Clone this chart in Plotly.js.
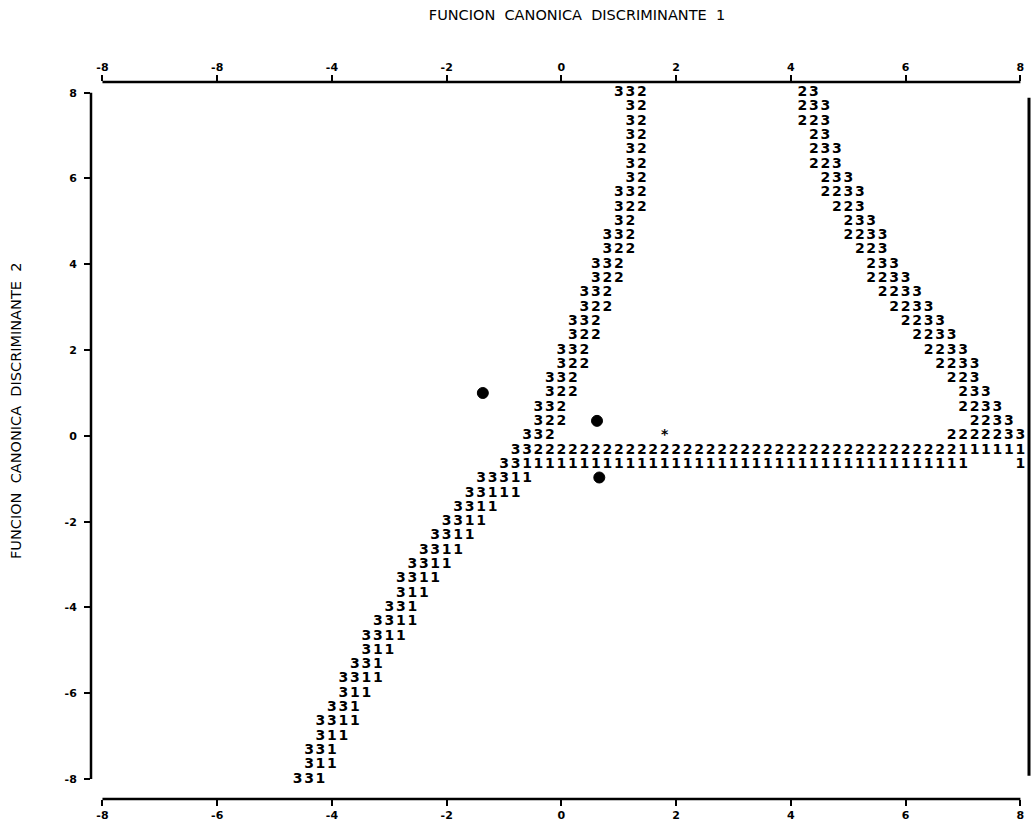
<!DOCTYPE html>
<html><head><meta charset="utf-8">
<script src="https://cdn.plot.ly/plotly-3.0.1.min.js"></script>
<style>html,body{margin:0;padding:0;background:#fff;}#chart{width:1032px;height:832px;}</style>
</head><body><div id="chart"></div>
<script>
// Territorial map grid: 81 columns (x from -8 to 8, step 0.2), 49 rows (y from 8 down to -8, step 1/3)
const gridX0 = -8, gridDX = 0.2, gridY0 = 8, gridDY = 1 / 3;

// Each row: list of [column, printed group digits]
const mapRows = [
  [[45, '332'], [61, '23']],
  [[46, '32'], [61, '233']],
  [[46, '32'], [61, '223']],
  [[46, '32'], [62, '23']],
  [[46, '32'], [62, '233']],
  [[46, '32'], [62, '223']],
  [[46, '32'], [63, '233']],
  [[45, '332'], [63, '2233']],
  [[45, '322'], [64, '223']],
  [[45, '32'], [65, '233']],
  [[44, '332'], [65, '2233']],
  [[44, '322'], [66, '223']],
  [[43, '332'], [67, '233']],
  [[43, '322'], [67, '2233']],
  [[42, '332'], [68, '2233']],
  [[42, '322'], [69, '2233']],
  [[41, '332'], [70, '2233']],
  [[41, '322'], [71, '2233']],
  [[40, '332'], [72, '2233']],
  [[40, '322'], [73, '2233']],
  [[39, '332'], [74, '223']],
  [[39, '322'], [75, '233']],
  [[38, '332'], [75, '2233']],
  [[38, '322'], [76, '2233']],
  [[37, '332'], [49, '*'], [74, '2222233']],
  [[36, '33' + '2222222222' + '2222222222' + '2222222222' + '2222222' + '111111']],
  [[35, '33' + '1111111111' + '1111111111' + '1111111111' + '111111111'], [80, '1']],
  [[33, '33311']],
  [[32, '33111']],
  [[31, '3311']],
  [[30, '3311']],
  [[29, '3311']],
  [[28, '3311']],
  [[27, '3311']],
  [[26, '3311']],
  [[26, '311']],
  [[25, '331']],
  [[24, '3311']],
  [[23, '3311']],
  [[23, '311']],
  [[22, '331']],
  [[21, '3311']],
  [[21, '311']],
  [[20, '331']],
  [[19, '3311']],
  [[19, '311']],
  [[18, '331']],
  [[18, '311']],
  [[17, '331']]
];

// Group centroids
const centroidX = [-1.37, 0.62, 0.66];
const centroidY = [1.00, 0.35, -0.97];

const xTickVals = [-8, -6, -4, -2, 0, 2, 4, 6, 8];
const xTickTextBottom = ['-8', '-6', '-4', '-2', '0', '2', '4', '6', '8'];
const xTickTextTop = ['-8', '-8', '-4', '-2', '0', '2', '4', '6', '8'];
const yTickVals = [-8, -6, -4, -2, 0, 2, 4, 6, 8];
const yTickText = ['-8', '-6', '-4', '-2', '0', '2', '4', '6', '8'];

const xTitle = 'FUNCION\u00a0\u00a0CANONICA\u00a0\u00a0DISCRIMINANTE\u00a0\u00a01';
const yTitle = 'FUNCION\u00a0\u00a0CANONICA\u00a0\u00a0DISCRIMINANTE\u00a0\u00a02';

const mx = [], my = [], mt = [];
mapRows.forEach((row, r) => {
  row.forEach(([c0, s]) => {
    for (let i = 0; i < s.length; i++) {
      mx.push(gridX0 + (c0 + i) * gridDX);
      my.push(gridY0 - r * gridDY);
      mt.push(s[i]);
    }
  });
});

const mapTrace = {
  type: 'scatter', mode: 'text', x: mx, y: my, text: mt,
  textposition: 'middle center',
  textfont: {family: 'DejaVu Sans', size: 14, color: '#000', weight: 'bold'},
  hoverinfo: 'skip', showlegend: false
};
const centroidTrace = {
  type: 'scatter', mode: 'markers', x: centroidX, y: centroidY, xaxis: 'x2', yaxis: 'y',
  marker: {symbol: 'circle', size: 11, color: '#000', line: {width: 1, color: '#000'}},
  hoverinfo: 'skip', showlegend: false
};

const tickFont = {family: 'DejaVu Sans', size: 11, color: '#000', weight: 'bold'};
const xr = [-8.2, 8.15];
const yr = [-8.464, 8.249];
const lineStyle = {color: '#000', width: 2.5};

const layout = {
  width: 1032, height: 832,
  margin: {l: 91, r: 3, t: 82, b: 33},
  paper_bgcolor: '#fff', plot_bgcolor: '#fff',
  showlegend: false,
  title: {text: xTitle, x: 577 / 1032, xanchor: 'center', xref: 'container',
          y: 1 - 15 / 832, yanchor: 'middle', yref: 'container',
          font: {family: 'DejaVu Sans', size: 14.5, color: '#000'}},
  xaxis: {range: xr, showgrid: false, zeroline: false, showline: false,
          ticks: 'outside', ticklen: 6, tickwidth: 2, tickcolor: '#000',
          tickmode: 'array', tickvals: xTickVals, ticktext: xTickTextBottom,
          tickfont: tickFont, fixedrange: true},
  xaxis2: {range: xr, overlaying: 'x', side: 'top', anchor: 'y', showgrid: false, zeroline: false, showline: false,
           ticks: 'outside', ticklen: 6, tickwidth: 2, tickcolor: '#000',
           tickmode: 'array', tickvals: xTickVals, ticktext: xTickTextTop,
           tickfont: tickFont, fixedrange: true},
  yaxis: {range: yr, showgrid: false, zeroline: false, showline: false,
          ticks: 'outside', ticklen: 6, tickwidth: 2, tickcolor: '#000',
          tickmode: 'array', tickvals: yTickVals, ticktext: yTickText,
          tickfont: tickFont, ticklabelstandoff: 5, fixedrange: true},
  shapes: [
    {type: 'line', xref: 'x', yref: 'paper', x0: -8, x1: 8, y0: 1, y1: 1, line: lineStyle},
    {type: 'line', xref: 'x', yref: 'paper', x0: -8, x1: 8, y0: 0, y1: 0, line: lineStyle},
    {type: 'line', xref: 'paper', yref: 'y', x0: 0, x1: 0, y0: -8, y1: 8, line: lineStyle},
    {type: 'line', xref: 'paper', yref: 'y', x0: 1, x1: 1, y0: -7.92, y1: 7.88, line: {color: '#000', width: 3}}
  ],
  annotations: [
    {text: yTitle, textangle: -90, xref: 'paper', yref: 'paper',
     x: (16 - 91) / 938, y: (799 - 411) / 717, xanchor: 'center', yanchor: 'middle',
     showarrow: false, font: {family: 'DejaVu Sans', size: 14.5, color: '#000'}}
  ]
};

Plotly.newPlot('chart', [mapTrace, centroidTrace], layout, {displayModeBar: false, staticPlot: true});
</script>
</body></html>
